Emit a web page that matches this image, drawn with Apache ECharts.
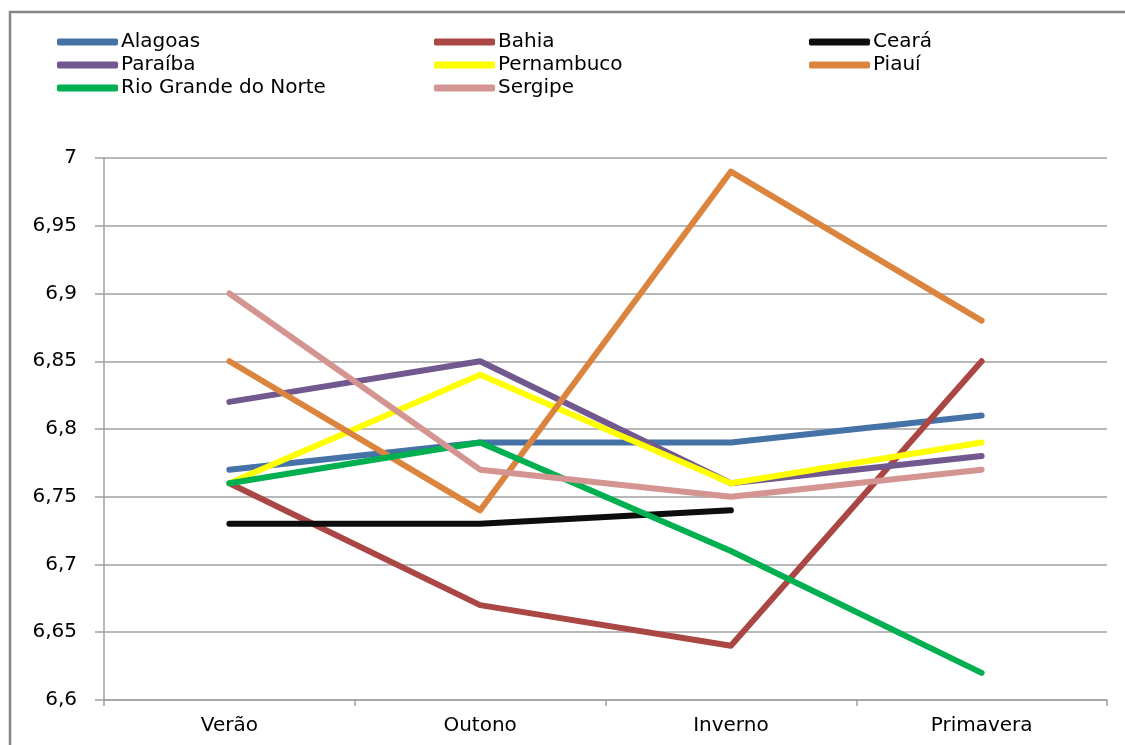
<!DOCTYPE html>
<html>
<head>
<meta charset="utf-8">
<script src="https://cdn.jsdelivr.net/npm/echarts@6/dist/echarts.min.js"></script>
<style>
  html, body { margin: 0; padding: 0; background: #fff; }
  #main { width: 1125px; height: 745px; }
</style>
</head>
<body>
<div id="main"></div>
<script>
// estações do ano
const categories = ["Verão", "Outono", "Inverno", "Primavera"];

// valores
const alagoas = [6.77, 6.79, 6.79, 6.81];
const bahia = [6.76, 6.67, 6.64, 6.85];
const ceara = [6.73, 6.73, 6.74, null];
const paraiba = [6.82, 6.85, 6.76, 6.78];
const pernambuco = [6.76, 6.84, 6.76, 6.79];
const piaui = [6.85, 6.74, 6.99, 6.88];
const rioGrandeDoNorte = [6.76, 6.79, 6.71, 6.62];
const sergipe = [6.90, 6.77, 6.75, 6.77];

const seriesList = [
  { name: "Alagoas", data: alagoas, color: "#4572A7" },
  { name: "Bahia", data: bahia, color: "#AA4643" },
  { name: "Ceará", data: ceara, color: "#0d0d0d" },
  { name: "Paraíba", data: paraiba, color: "#71588F" },
  { name: "Pernambuco", data: pernambuco, color: "#FFFF00" },
  { name: "Piauí", data: piaui, color: "#DB843D" },
  { name: "Rio Grande do Norte", data: rioGrandeDoNorte, color: "#00B050" },
  { name: "Sergipe", data: sergipe, color: "#D49491" },
];

// colunas da legenda
const legendCols = [
  ["Alagoas", "Paraíba", "Rio Grande do Norte"],
  ["Bahia", "Pernambuco", "Sergipe"],
  ["Ceará", "Piauí"],
];
const legendLeft = [52, 429, 804];

const fontFamily = "'DejaVu Sans', sans-serif";
const chart = echarts.init(document.getElementById("main"));

const option = {
  animation: false,
  backgroundColor: "#fff",
  textStyle: { fontFamily: fontFamily },
  graphic: [
    {
      // moldura do gráfico (só esquerda e topo aparecem)
      type: "polyline",
      shape: { points: [[10, 760], [10, 12], [1140, 12]] },
      style: { fill: "none", stroke: "#868686", lineWidth: 2.5 },
      silent: true,
    },
  ],
  legend: legendCols.map((col, i) => {
    return {
      data: col,
      orient: "vertical",
      left: legendLeft[i],
      top: 27,
      itemWidth: 61,
      itemHeight: 7,
      itemGap: 3,
      icon: "roundRect",
      selectedMode: false,
      textStyle: { fontSize: 20, color: "#000", fontFamily: fontFamily, padding: [0, 0, 0, -2] },
    };
  }),
  grid: {
    left: 104,
    right: 18,
    top: 158,
    bottom: 45,
  },
  xAxis: {
    type: "category",
    data: categories,
    boundaryGap: true,
    axisLine: { lineStyle: { color: "#a0a0a0", width: 1.5 } },
    axisTick: { show: true, length: 6, lineStyle: { color: "#a0a0a0", width: 1.5 } },
    axisLabel: { fontSize: 20, color: "#000", margin: 16, fontFamily: fontFamily },
  },
  yAxis: {
    type: "value",
    min: 6.6,
    max: 7,
    interval: 0.05,
    axisLine: { show: true, lineStyle: { color: "#a0a0a0", width: 1.5 } },
    axisTick: { show: true, length: 9, lineStyle: { color: "#a0a0a0", width: 1.5 } },
    splitLine: { lineStyle: { color: "#a0a0a0", width: 1.5 } },
    axisLabel: {
      fontSize: 20,
      color: "#000",
      margin: 27,
      fontFamily: fontFamily,
      formatter: (v) => String(Math.round(v * 100) / 100).replace(".", ","),
    },
  },
  series: seriesList.map((s) => {
    return {
      name: s.name,
      type: "line",
      data: s.data,
      symbol: "none",
      connectNulls: false,
      color: s.color,
      lineStyle: { width: 6, color: s.color, cap: "round", join: "round" },
      itemStyle: { color: s.color },
    };
  }),
};

chart.setOption(option);
</script>
</body>
</html>
